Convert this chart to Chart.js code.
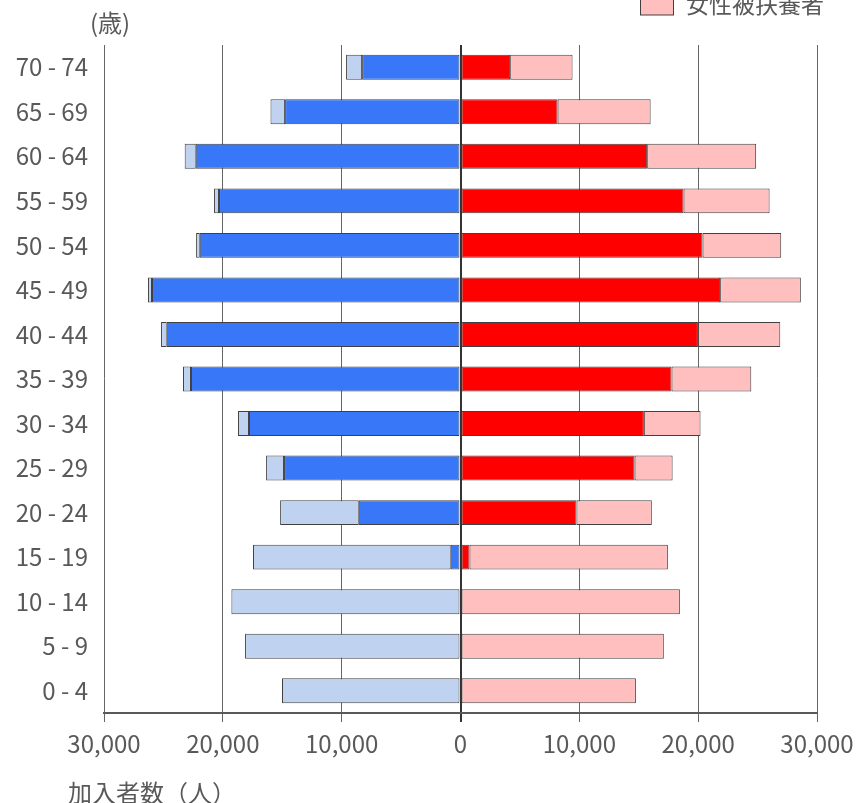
<!DOCTYPE html>
<html lang="ja">
<head>
<meta charset="utf-8">
<script src="https://cdn.jsdelivr.net/npm/chart.js@4/dist/chart.umd.min.js"></script>
<style>
  html, body { margin: 0; padding: 0; background: #ffffff; }
  #wrap { width: 856px; height: 803px; position: relative; }
</style>
</head>
<body>
<div id="wrap"><canvas id="c" width="856" height="803"></canvas></div>
<script>
// Age groups, youngest first (drawn bottom to top)
const ageGroups = ['0 - 4', '5 - 9', '10 - 14', '15 - 19', '20 - 24', '25 - 29', '30 - 34',
  '35 - 39', '40 - 44', '45 - 49', '50 - 54', '55 - 59', '60 - 64', '65 - 69', '70 - 74'];

// Members per age group (persons)
const maleInsured     = [0, 0, 0, 820, 8560, 14850, 17800, 22680, 24720, 25960, 21940, 20320, 22280, 14760, 8280];
const maleDependents  = [15020, 18130, 19280, 16640, 6620, 1510, 920, 670, 480, 340, 310, 420, 930, 1230, 1350];
const femaleInsured   = [0, 0, 0, 760, 9760, 14650, 15430, 17760, 19980, 21850, 20370, 18770, 15710, 8170, 4180];
const femaleDependents = [14760, 17110, 18460, 16690, 6340, 3200, 4770, 6710, 6930, 6790, 6620, 7240, 9170, 7830, 5250];

const seriesNames = ['男性被保険者', '男性被扶養者', '女性被保険者', '女性被扶養者'];
const xTicks = [-30000, -20000, -10000, 0, 10000, 20000, 30000];

const FONT = '"Noto Sans CJK JP", "Noto Sans", sans-serif';
const TEXT = '#595959';
const EDGE = '#404040';
const colors = ['#3878f8', '#bfd2f0', '#ff0000', '#ffbfbf'];

// Men are plotted to the left of zero
const neg = arr => arr.map(v => -v);

const datasets = [
  { label: seriesNames[0], data: neg(maleInsured),    backgroundColor: colors[0] },
  { label: seriesNames[1], data: neg(maleDependents), backgroundColor: colors[1] },
  { label: seriesNames[2], data: femaleInsured,        backgroundColor: colors[2] },
  { label: seriesNames[3], data: femaleDependents,     backgroundColor: colors[3] }
].map(d => Object.assign(d, {
  borderColor: EDGE, borderWidth: 1, borderSkipped: false,
  categoryPercentage: 1, barPercentage: 0.56
}));

// Extra text: unit labels and a column legend at the top right
const decorations = {
  id: 'decorations',
  afterDraw(chart) {
    const ctx = chart.ctx;
    ctx.save();
    ctx.fillStyle = TEXT;
    ctx.textBaseline = 'middle';
    ctx.textAlign = 'left';
    ctx.font = '24px ' + FONT;
    ctx.fillText('(歳)', 90, 23);
    ctx.fillText('加入者数（人）', 68, 793);

    // legend column; rows above the last fall beyond the canvas top
    const rowGap = 32;
    const lastY = 4;
    ctx.font = '23px ' + FONT;
    seriesNames.forEach((name, i) => {
      const cy = lastY - (seriesNames.length - 1 - i) * rowGap;
      ctx.fillStyle = colors[i];
      ctx.fillRect(640.5, cy - 10, 33, 21);
      ctx.strokeStyle = EDGE;
      ctx.lineWidth = 1;
      ctx.strokeRect(640.5, cy - 10, 33, 21);
      ctx.fillStyle = TEXT;
      ctx.fillText(name, 686, cy);
    });
    ctx.restore();
  }
};

new Chart(document.getElementById('c'), {
  type: 'bar',
  data: { labels: ageGroups, datasets },
  options: {
    indexAxis: 'y',
    responsive: false,
    animation: false,
    layout: { padding: { top: 45, right: 39, bottom: 0, left: 0 } },
    plugins: { legend: { display: false }, tooltip: { enabled: false } },
    scales: {
      x: {
        stacked: true,
        min: -30000,
        max: 30000,
        afterBuildTicks: scale => { scale.ticks = xTicks.map(v => ({ value: v })); },
        afterFit: scale => {
          scale.height = 90;
          scale.paddingLeft = 0;
          scale.paddingRight = 0;
        },
        ticks: {
          padding: 7,
          color: TEXT,
          font: { family: FONT, size: 24 },
          maxRotation: 0,
          callback: v => Math.abs(v).toLocaleString('en-US')
        },
        grid: {
          drawTicks: true,
          tickLength: 9,
          color: c => (c.tick && c.tick.value === 0) ? '#333333' : '#666666',
          lineWidth: c => (c.tick && c.tick.value === 0) ? 2 : 1
        },
        border: { display: true, color: '#5a5a5a', width: 2 }
      },
      y: {
        stacked: true,
        reverse: true,
        afterFit: scale => { scale.width = 104; },
        ticks: {
          padding: 16,
          color: TEXT,
          font: { family: FONT, size: 24 }
        },
        grid: { display: false, drawTicks: false },
        border: { display: false }
      }
    }
  },
  plugins: [decorations]
});
</script>
</body>
</html>
